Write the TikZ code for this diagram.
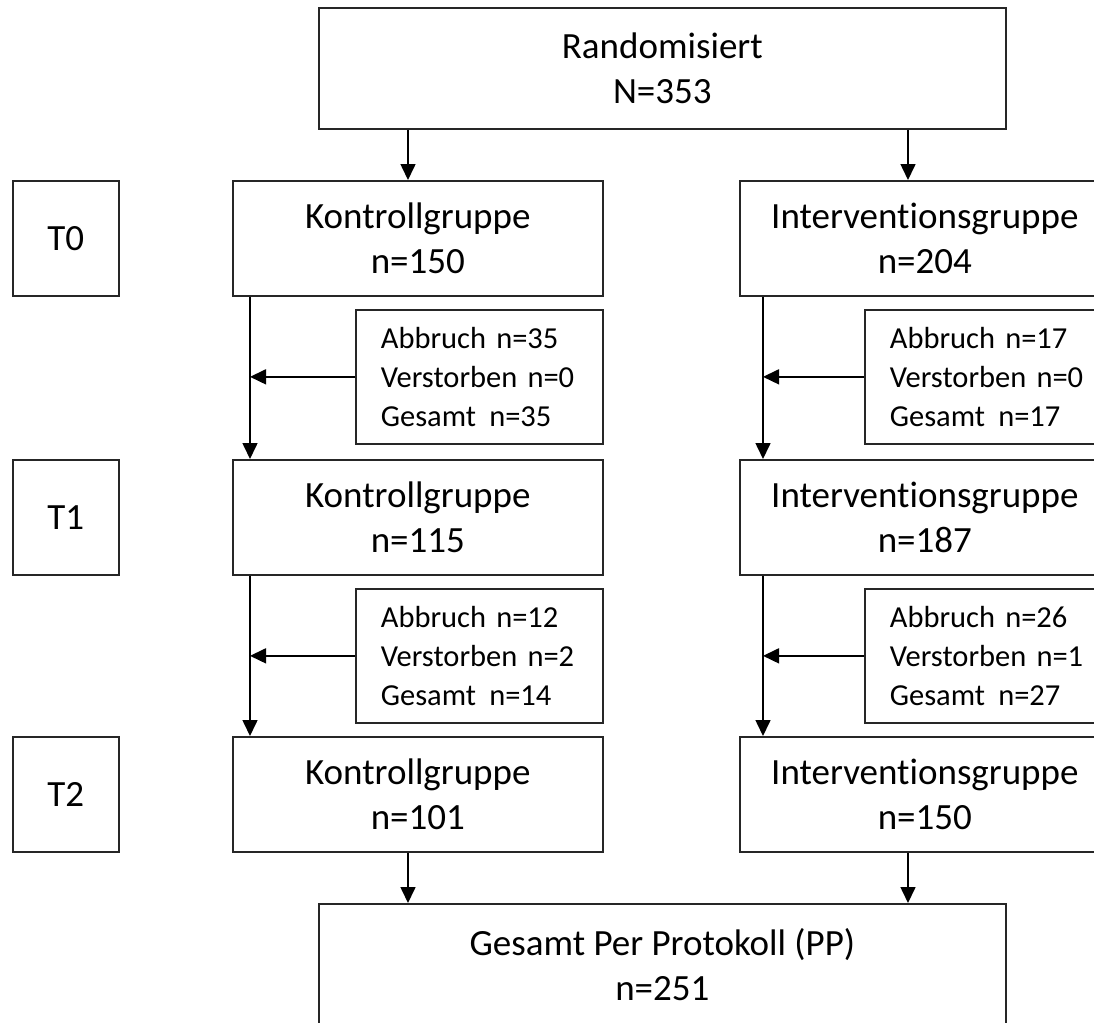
\documentclass[tikz,border=0pt]{standalone}
\usepackage{fontspec}
\setmainfont[Ligatures={NoCommon}]{Carlito}
\usetikzlibrary{arrows.meta}
\begin{document}
\begin{tikzpicture}[x=1pt,y=-1pt,
  box/.style={draw=black!85,line width=1.7pt,anchor=north west,align=center,inner sep=0pt,
    font=\fontsize{37}{45}\selectfont},
  grp/.style={box,minimum width=370pt,minimum height=115pt},
  tbox/.style={box,minimum width=106pt,minimum height=115pt},
  big/.style={box,minimum width=687pt,minimum height=121pt},
  drop/.style={draw=black!85,line width=1.7pt,anchor=north west,align=left,inner sep=0pt,
    minimum width=247pt,minimum height=134pt,text width=247pt,
    font=\fontsize{30.5}{39}\selectfont},
  arr/.style={line width=1.6pt,-{Triangle[length=16pt,width=15pt]}}]
\useasboundingbox (0,0) rectangle (1094,1022);
\clip (0,0) rectangle (1094,1022);
\node[big] (rand) at (318,7) {Randomisiert\\N=353};
\node[tbox] (t0) at (12,180) {T0};
\node[tbox] (t1) at (12,459) {T1};
\node[tbox] (t2) at (12,736) {T2};
\node[grp] (k0) at (232,180) {Kontrollgruppe\\n=150};
\node[grp] (i0) at (739,180) {Interventionsgruppe\\n=204};
\node[grp] (k1) at (232,459) {Kontrollgruppe\\n=115};
\node[grp] (i1) at (739,459) {Interventionsgruppe\\n=187};
\node[grp] (k2) at (232,736) {Kontrollgruppe\\n=101};
\node[grp] (i2) at (739,736) {Interventionsgruppe\\n=150};
\node[drop] (ak1) at (355,309) {\hspace*{25pt}Abbruch n=35\\\hspace*{25pt}Verstorben n=0\\\hspace*{25pt}Gesamt \hspace{3pt}n=35};
\node[drop] (ai1) at (864,309) {\hspace*{25pt}Abbruch n=17\\\hspace*{25pt}Verstorben n=0\\\hspace*{25pt}Gesamt \hspace{3pt}n=17};
\node[drop] (ak2) at (355,588) {\hspace*{25pt}Abbruch n=12\\\hspace*{25pt}Verstorben n=2\\\hspace*{25pt}Gesamt \hspace{3pt}n=14};
\node[drop] (ai2) at (864,588) {\hspace*{25pt}Abbruch n=26\\\hspace*{25pt}Verstorben n=1\\\hspace*{25pt}Gesamt \hspace{3pt}n=27};
\node[big] (pp) at (318,903) {Gesamt Per Protokoll (PP)\\n=251};
% arrows from top
\draw[arr] ([xshift=176pt]k0.north west |- rand.south) -- ([xshift=176pt]k0.north west);
\draw[arr] ([xshift=169pt]i0.north west |- rand.south) -- ([xshift=169pt]i0.north west);
% control column
\draw[arr] ([xshift=18pt]k0.south west) -- ([xshift=18pt]k1.north west);
\draw[arr] (ak1.west) -- ([xshift=18pt]k0.south west |- ak1.west);
\draw[arr] ([xshift=18pt]k1.south west) -- ([xshift=18pt]k2.north west);
\draw[arr] (ak2.west) -- ([xshift=18pt]k1.south west |- ak2.west);
% intervention column
\draw[arr] ([xshift=24pt]i0.south west) -- ([xshift=24pt]i1.north west);
\draw[arr] (ai1.west) -- ([xshift=24pt]i0.south west |- ai1.west);
\draw[arr] ([xshift=24pt]i1.south west) -- ([xshift=24pt]i2.north west);
\draw[arr] (ai2.west) -- ([xshift=24pt]i1.south west |- ai2.west);
% to bottom
\draw[arr] ([xshift=176pt]k2.south west) -- ([xshift=176pt]k2.south west |- pp.north);
\draw[arr] ([xshift=169pt]i2.south west) -- ([xshift=169pt]i2.south west |- pp.north);
\end{tikzpicture}
\end{document}
